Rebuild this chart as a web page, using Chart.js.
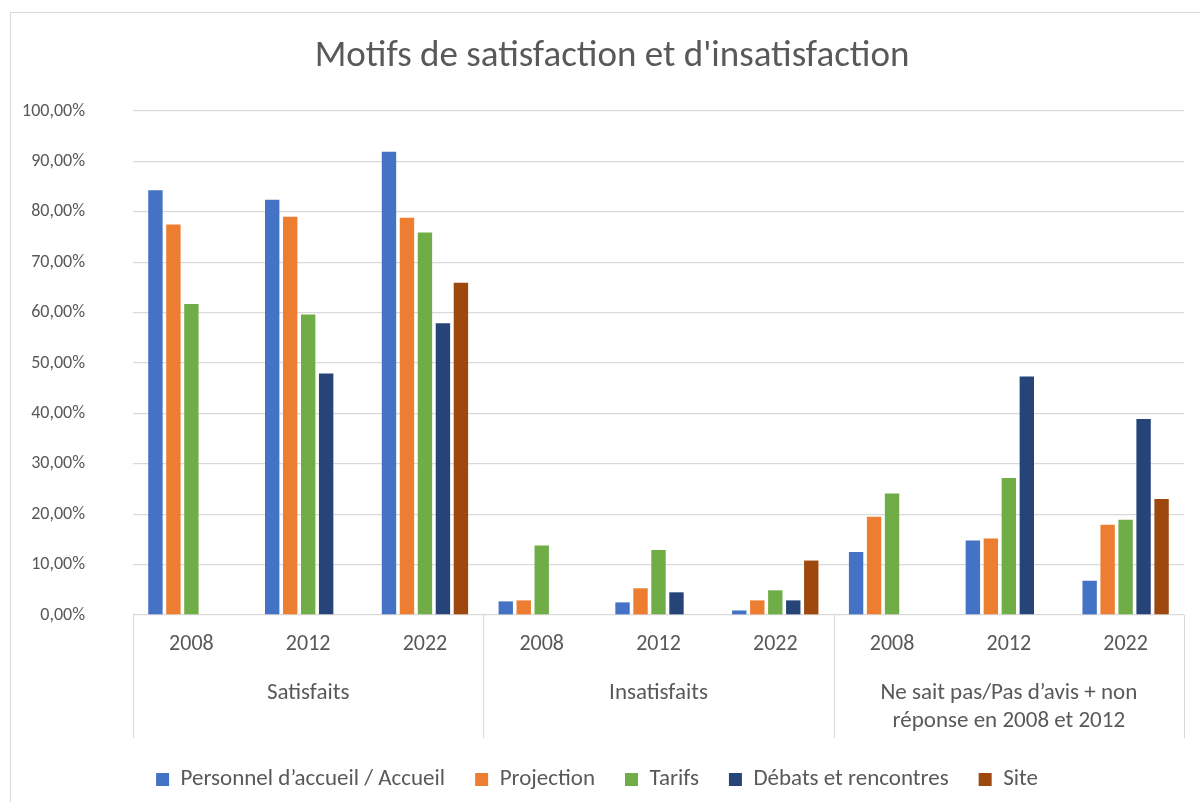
<!DOCTYPE html>
<html>
<head>
<meta charset="utf-8">
<script src="https://cdn.jsdelivr.net/npm/chart.js@4"></script>
<style>
  body { margin: 0; background: #fff; }
  #wrap { position: absolute; left: 0; top: 0; width: 1200px; height: 802px; }
  #frame { position: absolute; left: 10px; top: 12px; width: 1200px; height: 800px; border: 1px solid #d9d9d9; }
</style>
</head>
<body>
<div id="frame"></div>
<div id="wrap"><canvas id="chart" width="1200" height="802"></canvas></div>
<script>
// données
const titre = "Motifs de satisfaction et d'insatisfaction";
const groupes = [["Satisfaits"], ["Insatisfaits"], ["Ne sait pas/Pas d\u2019avis + non", "r\u00e9ponse en 2008 et 2012"]];
const annees = ["2008", "2012", "2022", "2008", "2012", "2022", "2008", "2012", "2022"];
const accueil = [84.3, 82.4, 91.9, 2.7, 2.5, 0.9, 12.5, 14.8, 6.8];
const projection = [77.5, 79.0, 78.8, 2.9, 5.3, 2.9, 19.5, 15.2, 17.9];
const tarifs = [61.7, 59.6, 75.9, 13.8, 12.9, 4.9, 24.1, 27.2, 18.9];
const debats = [null, 47.9, 57.9, null, 4.5, 2.9, null, 47.3, 38.9];
const site = [null, null, 65.9, null, null, 10.8, null, null, 23.0];

const police = "Carlito, Lato, sans-serif";
const gris = "#595959";

// titre centré sur le cadre + étiquettes du 2e niveau + séparateurs
const groupPlugin = {
    id: "groupes",
    afterDraw(chart) {
        const ctx = chart.ctx;
        const x = chart.scales.x;
        const half = (x.getPixelForValue(1) - x.getPixelForValue(0)) / 2;
        ctx.save();
        ctx.fillStyle = gris;
        ctx.textAlign = "center";
        ctx.textBaseline = "middle";
        ctx.font = "37px " + police;
        ctx.fillText(titre, 612, 57);

        ctx.strokeStyle = "#d9d9d9";
        ctx.lineWidth = 1;
        ctx.font = "23px " + police;
        groupes.forEach(function (lignes, g) {
            let x0 = x.getPixelForValue(g * 3) - half;
            let x1 = x.getPixelForValue(g * 3 + 2) + half;
            [x0, x1].forEach(function (px) {
                ctx.beginPath();
                ctx.moveTo(Math.round(px) + 0.5, x.top);
                ctx.lineTo(Math.round(px) + 0.5, x.bottom);
                ctx.stroke();
            });
            lignes.forEach(function (t, i) {
                ctx.fillText(t, (x0 + x1) / 2, x.top + 78 + i * 28);
            });
        });
        ctx.restore();
    }
};

new Chart(document.getElementById("chart"), {
    type: "bar",
    data: {
        labels: annees,
        datasets: [
            { label: "Personnel d\u2019accueil / Accueil", data: accueil, backgroundColor: "#4472C4" },
            { label: "Projection", data: projection, backgroundColor: "#ED7D31" },
            { label: "Tarifs", data: tarifs, backgroundColor: "#70AD47" },
            { label: "D\u00e9bats et rencontres", data: debats, backgroundColor: "#264478" },
            { label: "Site", data: site, backgroundColor: "#9E480E" }
        ]
    },
    options: {
        responsive: false,
        animation: false,
        categoryPercentage: 0.77,
        barPercentage: 0.8,
        layout: { padding: { left: 10, right: 16, top: 111, bottom: 1 } },
        plugins: {
            title: { display: false },
            legend: {
                position: "bottom",
                labels: {
                    color: gris,
                    font: { family: police, size: 23 },
                    boxWidth: 13,
                    boxHeight: 13,
                    padding: 30
                }
            },
            tooltip: { enabled: false }
        },
        scales: {
            x: {
                grid: { display: false },
                border: { display: false },
                ticks: { color: gris, font: { family: police, size: 22 }, padding: 8, maxRotation: 0 },
                afterFit: function (s) { s.height = 123; }
            },
            y: {
                min: 0,
                max: 100,
                grid: { color: "#d9d9d9", lineWidth: 1.3, drawTicks: false },
                border: { display: false },
                ticks: {
                    stepSize: 10,
                    color: gris,
                    font: { family: police, size: 18 },
                    padding: 48,
                    callback: function (v) { return v.toFixed(2).replace(".", ",") + "%"; }
                },
                afterFit: function (s) { s.width = 123; }
            }
        }
    },
    plugins: [groupPlugin]
});
</script>
</body>
</html>
